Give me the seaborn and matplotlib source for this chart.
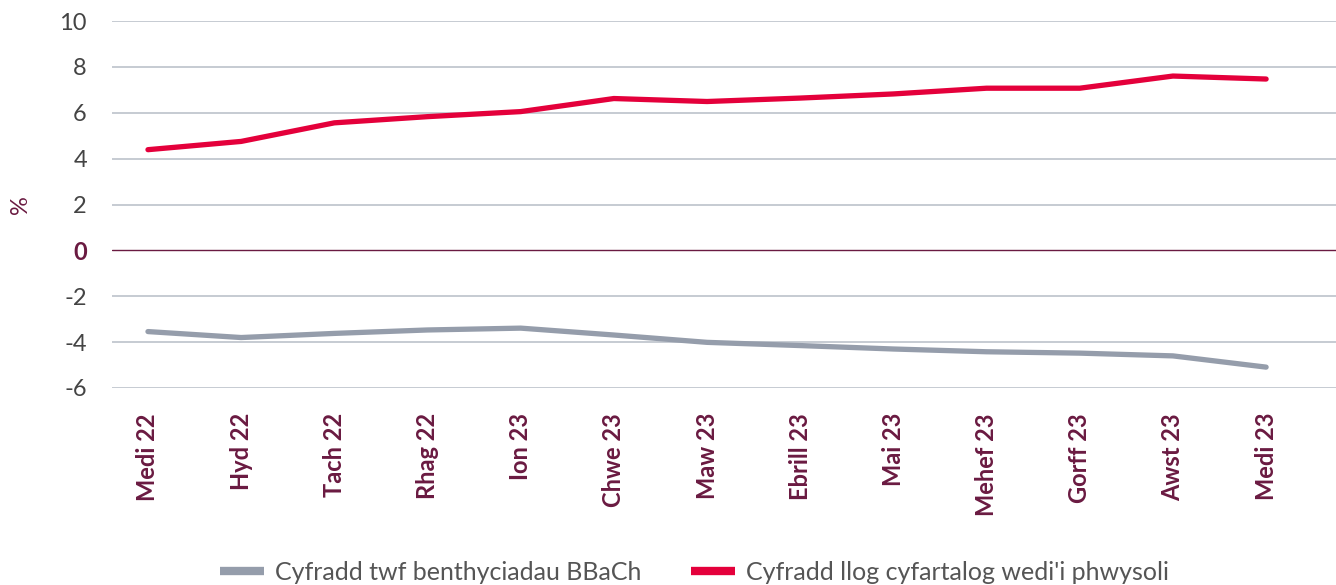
import pandas as pd
import seaborn as sns
import matplotlib.pyplot as plt
from matplotlib.lines import Line2D

# === data ===
months = ["Medi 22", "Hyd 22", "Tach 22", "Rhag 22", "Ion 23", "Chwe 23", "Maw 23",
          "Ebrill 23", "Mai 23", "Mehef 23", "Gorff 23", "Awst 23", "Medi 23"]
growth = [-3.54, -3.80, -3.62, -3.47, -3.39, -3.69, -4.01, -4.15, -4.30, -4.42, -4.48, -4.60, -5.09]
rate = [4.39, 4.75, 5.56, 5.83, 6.05, 6.62, 6.49, 6.64, 6.82, 7.07, 7.07, 7.60, 7.47]
series_names = ["Cyfradd twf benthyciadau BBaCh", "Cyfradd llog cyfartalog wedi'i phwysoli"]
yticks = [-6, -4, -2, 0, 2, 4, 6, 8, 10]

maroon = "#6a1a41"
grey_line = "#959dab"
red_line = "#e4003b"

df = pd.DataFrame({
    "pos": list(range(len(months))) * 2,
    "value": growth + rate,
    "series": [series_names[0]] * len(months) + [series_names[1]] * len(months),
})

sns.set_style("white")
plt.rcParams["font.family"] = ["Lato", "DejaVu Sans"]

fig = plt.figure(figsize=(13.36, 5.85), dpi=100)
ax = fig.add_axes([112 / 1336, 1 - 388 / 585, 1 - 112 / 1336, (388 - 21) / 585])

# gridlines, zero line in maroon
for y in yticks:
    if y == 0:
        ax.axhline(y, color=maroon, lw=1.0, zorder=1)
    else:
        ax.axhline(y, color="#bcc2cb", lw=1.2, zorder=1)

sns.lineplot(data=df, x="pos", y="value", hue="series",
             palette={series_names[0]: grey_line, series_names[1]: red_line},
             linewidth=3.8, legend=False, ax=ax, zorder=3)

ax.set_xlim(-0.386, 12.75)
ax.set_ylim(-6, 10)
for s in ax.spines.values():
    s.set_visible(False)

ax.set_yticks(yticks)
ax.set_yticklabels([str(v) for v in yticks], fontsize=17, color="#444444")
for lab in ax.get_yticklabels():
    if lab.get_text() == "0":
        lab.set_color(maroon)
        lab.set_fontweight("bold")
ax.tick_params(axis="y", length=0, pad=18)

ax.set_xticks(range(len(months)))
ax.set_xticklabels(months, rotation=90, fontsize=17, color=maroon, fontweight="bold")
ax.tick_params(axis="x", length=0, pad=18)

ax.set_xlabel("")
ax.set_ylabel("%", fontsize=17, color=maroon)
ax.yaxis.set_label_coords((31 - 112) / 1224, 0.5)

handles = [Line2D([0], [0], color=grey_line, lw=6, solid_capstyle="butt"),
           Line2D([0], [0], color=red_line, lw=6, solid_capstyle="butt")]
fig.legend(handles, series_names, loc="center", bbox_to_anchor=(0.52, 0.022),
           ncol=2, frameon=False, fontsize=18, handlelength=1.75, handletextpad=0.45,
           columnspacing=2.0, labelcolor="#555555")

fig.savefig("out.png", dpi=100)
